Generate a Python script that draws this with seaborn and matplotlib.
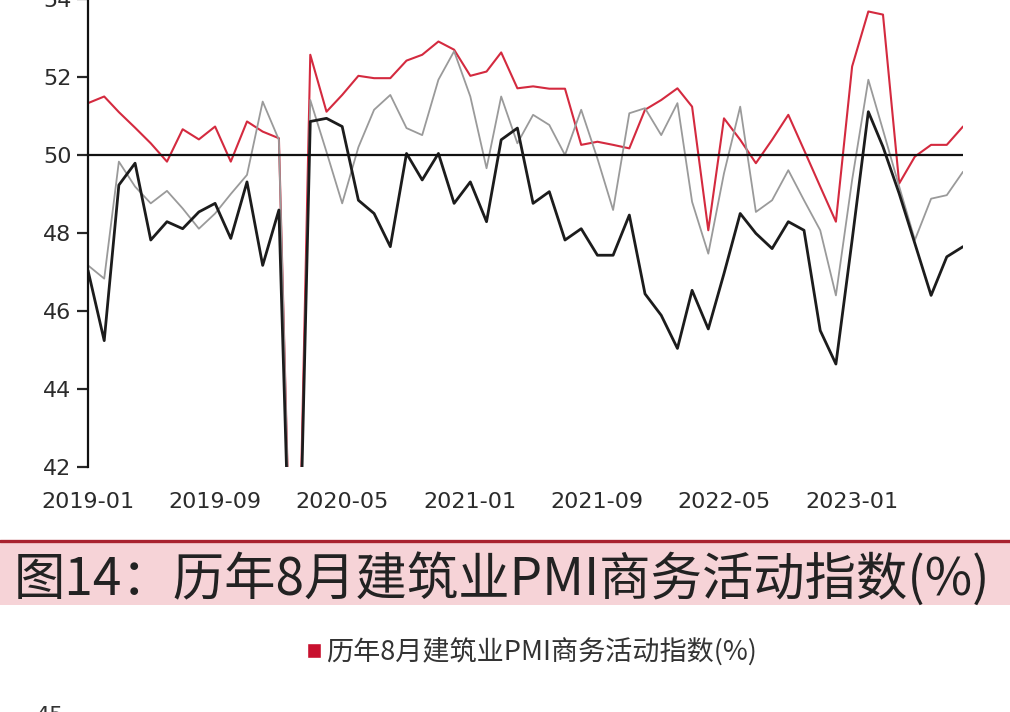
"""Line chart of three PMI sub-indices (2019-01 .. 2023-08) plus the next figure's caption band."""
import matplotlib.pyplot as plt
import pandas as pd
import seaborn as sns
from matplotlib.lines import Line2D
from matplotlib.patches import Patch, Rectangle

MONTHS = pd.date_range("2019-01-01", "2023-08-01", freq="MS")

RED_VALUES = [
    51.33, 51.50, 51.10, 50.70, 50.30, 49.83, 50.66, 50.40, 50.73, 49.83, 50.86, 50.60, 50.43,
    34.5, 52.57, 51.11, 51.54, 52.03, 51.97, 51.97, 52.42, 52.57, 52.91, 52.70, 52.03, 52.14,
    52.63, 51.71, 51.76, 51.70, 51.70, 50.26, 50.34, 50.26, 50.17, 51.16, 51.41, 51.71, 51.24,
    48.07, 50.94, 50.39, 49.79, 50.39, 51.03, 50.13, 49.19, 48.29, 52.27, 53.68, 53.60, 49.27,
    49.96, 50.26, 50.26, 50.73,
]
GRAY_VALUES = [
    47.17, 46.83, 49.83, 49.19, 48.76, 49.08, 48.63, 48.11, 48.50, 49.00, 49.49, 51.37, 50.39,
    34.5, 51.41, 50.08, 48.76, 50.20, 51.16, 51.54, 50.69, 50.51, 51.93, 52.66, 51.50, 49.66,
    51.50, 50.30, 51.03, 50.77, 50.00, 51.16, 49.91, 48.59, 51.07, 51.20, 50.51, 51.33, 48.80,
    47.47, 49.53, 51.24, 48.54, 48.84, 49.61, 48.84, 48.07, 46.40, 49.36, 51.93, 50.64, 49.19,
    47.82, 48.88, 48.97, 49.57,
]
BLACK_VALUES = [
    47.04, 45.24, 49.23, 49.79, 47.82, 48.29, 48.11, 48.54, 48.76, 47.86, 49.31, 47.17, 48.59,
    34.5, 50.86, 50.94, 50.73, 48.84, 48.50, 47.65, 50.04, 49.36, 50.04, 48.76, 49.31, 48.29,
    50.39, 50.69, 48.76, 49.06, 47.82, 48.11, 47.43, 47.43, 48.46, 46.44, 45.89, 45.04, 46.53,
    45.54, 46.96, 48.50, 47.99, 47.60, 48.29, 48.07, 45.50, 44.64, 47.82, 51.11, 50.21, 49.01,
    47.73, 46.40, 47.39, 47.65,
]
SERIES_NAMES = ["red", "gray", "black"]
SERIES_COLORS = {"red": "#d42a3f", "gray": "#9a9a9a", "black": "#1c1c1c"}
SERIES_WIDTHS = {"red": 1.5, "gray": 1.3, "black": 2.0}

Y_TICKS = [42, 44, 46, 48, 50, 52, 54]
X_TICKS = ["2019-01", "2019-09", "2020-05", "2021-01", "2021-09", "2022-05", "2023-01"]

CAPTION = "图14：历年8月建筑业PMI商务活动指数(%)"
LEGEND_LABEL = "历年8月建筑业PMI商务活动指数(%)"

W, H = 1010, 712

sns.set_style("ticks")
plt.rcParams["font.family"] = ["DejaVu Sans", "Noto Sans CJK SC"]

df = pd.DataFrame({
    "month": list(MONTHS) * 3,
    "value": RED_VALUES + GRAY_VALUES + BLACK_VALUES,
    "series": [s for s in SERIES_NAMES for _ in MONTHS],
})

fig = plt.figure(figsize=(W / 100, H / 100), dpi=100)
ax = fig.add_axes([88 / W, 245 / H, 875 / W, 468 / H])

for name in SERIES_NAMES:
    sns.lineplot(data=df[df["series"] == name], x="month", y="value", ax=ax,
                 color=SERIES_COLORS[name], linewidth=SERIES_WIDTHS[name], legend=False)
ax.axhline(50, color="#111111", linewidth=1.6)

ax.set_xlim(MONTHS[0], MONTHS[-1])
ax.set_ylim(42, 54)
ax.set_yticks(Y_TICKS)
ax.set_xticks(pd.to_datetime(X_TICKS))
ax.set_xticklabels(X_TICKS)
ax.set_xlabel("")
ax.set_ylabel("")
for side in ("top", "right", "bottom"):
    ax.spines[side].set_visible(False)
ax.spines["left"].set_linewidth(1.6)
ax.spines["left"].set_color("#111111")
ax.tick_params(axis="y", length=8, width=1.6, direction="out", labelsize=16,
               labelcolor="#2b2b2b", pad=4)
ax.tick_params(axis="x", length=0, labelsize=16, labelcolor="#2b2b2b", pad=18)

# caption band of the following figure
fig.patches.append(Rectangle((0, (H - 605) / H), 1, 63 / H, transform=fig.transFigure,
                             facecolor="#f6d3d7", edgecolor="none", zorder=0))
fig.lines.append(Line2D([0, 1], [(H - 541) / H] * 2, transform=fig.transFigure,
                        color="#a8222f", linewidth=2.4))
fig.text(14 / W, (H - 580) / H, CAPTION, fontsize=37, color="#222222",
         family=["Noto Sans CJK SC", "DejaVu Sans"], ha="left", va="center")

fig.legend(handles=[Patch(facecolor="#c8102e")], labels=[LEGEND_LABEL],
           loc="center", bbox_to_anchor=(532 / W, (H - 652) / H), frameon=False,
           handlelength=0.5, handleheight=0.5, handletextpad=0.2,
           prop={"family": ["Noto Sans CJK SC", "DejaVu Sans"], "size": 19.5})
for t in fig.legends[0].get_texts():
    t.set_color("#333333")

# top of the next chart's y-axis label, cut by the page edge
fig.text(36 / W, -10 / H, "45", fontsize=16, color="#333333", ha="left", va="baseline")

fig.savefig("out.png", dpi=100)
